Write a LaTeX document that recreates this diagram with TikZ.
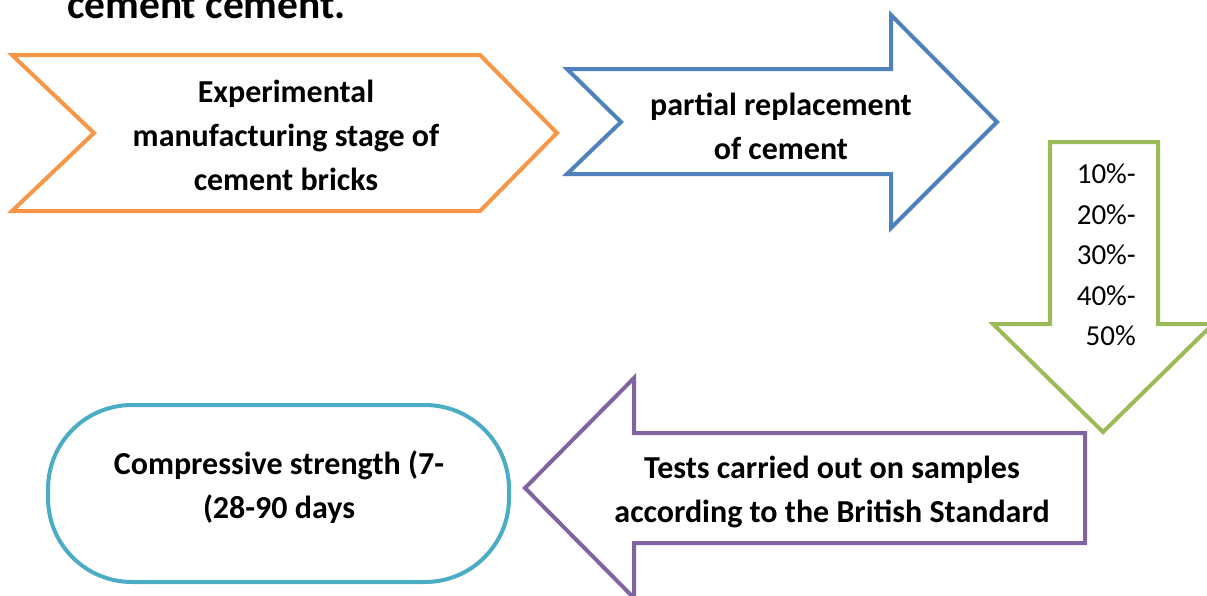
\documentclass[tikz,border=0pt]{standalone}
\usepackage{fontspec}
\setmainfont{Carlito}
\definecolor{chevorange}{RGB}{247,150,70}
\definecolor{arrowblue}{RGB}{79,129,189}
\definecolor{arrowgreen}{RGB}{155,187,89}
\definecolor{arrowpurple}{RGB}{128,100,162}
\definecolor{roundteal}{RGB}{75,172,198}
\begin{document}
\begin{tikzpicture}[x=1pt,y=1pt,yscale=-1,xscale=1,
  shapeline/.style={line width=4pt,line join=miter},
  boldlabel/.style={inner sep=0pt,align=center,font=\fontsize{32}{44}\selectfont\bfseries},
  percentlabel/.style={inner sep=0pt,align=right,font=\fontsize{29}{40.5}\selectfont}]
\useasboundingbox (0,0) rectangle (1207,595);
\clip (0,0) rectangle (1207,595);

%Shape: Chevron [orange]
\draw [shapeline,chevorange] (12,55) -- (480,55) -- (557,133) -- (480,211) -- (12,211) -- (94,133) -- cycle ;
%Shape: Right Arrow [blue]
\draw [shapeline,arrowblue] (567,69) -- (891,69) -- (891,15) -- (997,122) -- (891,228) -- (891,174) -- (567,174) -- (621,122) -- cycle ;
%Shape: Down Arrow [green]
\draw [shapeline,arrowgreen] (1050,142) -- (1158,142) -- (1158,324) -- (1213,324) -- (1103,432) -- (993,324) -- (1050,324) -- cycle ;
%Shape: Left Arrow [purple]
\draw [shapeline,arrowpurple] (1085,433) -- (634,433) -- (634,378) -- (525,488) -- (634,598) -- (634,543) -- (1085,543) -- cycle ;
%Shape: Rounded Rectangle [teal]
\draw [shapeline,roundteal,rounded corners=84pt] (48,405) rectangle (509,582) ;

% Text Node
\node (title) [anchor=base west,inner sep=0pt,font=\fontsize{41.5}{49}\selectfont\bfseries] at (67,18) {cement cement.};
% Text Node
\node (stagetext) [boldlabel] at (286,135) {Experimental\\manufacturing stage of\\cement bricks};
% Text Node
\node (replacetext) [boldlabel] at (781,126) {partial replacement\\of cement};
% Text Node
\node (percenttext) [percentlabel,anchor=east] at (1136,255) {10\%-\\20\%-\\30\%-\\40\%-\\50\%};
% Text Node
\node (teststext) [boldlabel] at (832,492) {Tests carried out on samples\\according to the British Standard};
% Text Node
\node (strengthtext) [boldlabel] at (279,487) {Compressive strength (7-\\(28-90 days};

\end{tikzpicture}
\end{document}
